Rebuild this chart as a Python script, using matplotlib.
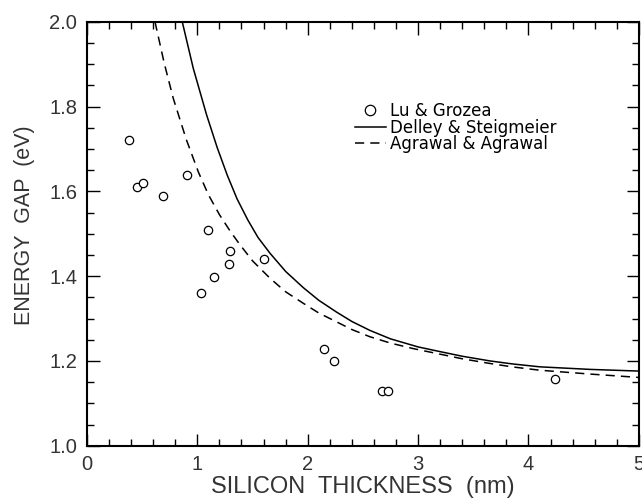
import matplotlib
matplotlib.use('Agg')
import matplotlib.pyplot as plt
from matplotlib.ticker import MultipleLocator

plt.rcParams['font.family'] = ['Liberation Sans', 'DejaVu Sans']

# measured points (Lu & Grozea)
lu_x = [0.38, 0.456, 0.507, 0.689, 0.906, 1.035, 1.10, 1.15, 1.283, 1.30, 1.606, 2.144, 2.234, 2.669, 2.73, 4.245]
lu_y = [1.721, 1.609, 1.620, 1.588, 1.639, 1.359, 1.509, 1.399, 1.428, 1.460, 1.440, 1.228, 1.199, 1.129, 1.129, 1.158]

# theory curves
delley_x = [0.863, 0.963, 1.084, 1.18, 1.271, 1.36, 1.458, 1.55, 1.658, 1.80, 1.959, 2.10, 2.262,
            2.40, 2.563, 2.75, 3.0, 3.197, 3.40, 3.650, 3.85, 4.103, 4.556, 5.0]
delley_y = [2.0, 1.890, 1.780, 1.703, 1.638, 1.582, 1.532, 1.491, 1.454, 1.411, 1.373, 1.343, 1.315,
            1.293, 1.272, 1.252, 1.233, 1.222, 1.211, 1.200, 1.193, 1.186, 1.180, 1.176]

agrawal_x = [0.616, 0.70, 0.782, 0.90, 1.01, 1.10, 1.2, 1.30, 1.386, 1.50, 1.658, 1.80, 1.959, 2.10, 2.262,
             2.40, 2.563, 2.75, 2.956, 3.197, 3.40, 3.650, 3.85, 4.103, 4.556, 5.0]
agrawal_y = [2.0, 1.902, 1.819, 1.722, 1.645, 1.592, 1.545, 1.505, 1.474, 1.436, 1.395, 1.363, 1.336, 1.313, 1.292,
             1.274, 1.257, 1.242, 1.229, 1.216, 1.205, 1.194, 1.186, 1.178, 1.169, 1.161]

fig = plt.figure(figsize=(6.42, 5.0), dpi=100)
ax = fig.add_axes([0.1355, 0.1086, 0.8595, 0.848])

ax.plot(lu_x, lu_y, 'o', ms=6, mfc='white', mec='black', mew=0.9, label='Lu & Grozea')
ax.plot(delley_x, delley_y, '-', color='black', lw=1.1, label='Delley & Steigmeier')
ax.plot(agrawal_x, agrawal_y, color='black', lw=1.1, ls=(0, (6, 4)), label='Agrawal & Agrawal')

ax.set_xlim(0, 5)
ax.set_ylim(1.0, 2.0)
ax.xaxis.set_major_locator(MultipleLocator(1))
ax.xaxis.set_minor_locator(MultipleLocator(0.2))
ax.yaxis.set_minor_locator(MultipleLocator(0.05))
ax.set_yticks([1.0, 1.2, 1.4, 1.6, 1.8, 2.0])
ax.set_yticklabels(['1.0', '1.2', '1.4', '1.6', '1.8', '2.0'])

ax.tick_params(which='both', direction='in', top=True, right=True, width=1.0,
               labelsize=14.5, labelcolor='#333333')
ax.tick_params(which='major', length=9, pad=7)
ax.tick_params(which='minor', length=5)
for s in ax.spines.values():
    s.set_linewidth(1.5)

ax.set_xlabel('SILICON  THICKNESS  (nm)', fontsize=17, color='#333333', labelpad=1)
ax.set_ylabel('ENERGY  GAP  (eV)', fontsize=15.5, color='#333333')
ax.yaxis.set_label_coords(-0.095, 0.52)

ax.legend(loc='upper left', bbox_to_anchor=(0.485, 0.81), frameon=False,
          prop={'family': 'DejaVu Sans', 'size': 12},
          handlelength=1.9, handletextpad=0.25, labelspacing=-0.1, borderpad=0,
          borderaxespad=0, markerscale=1.25)

fig.savefig('out.png', dpi=100)
